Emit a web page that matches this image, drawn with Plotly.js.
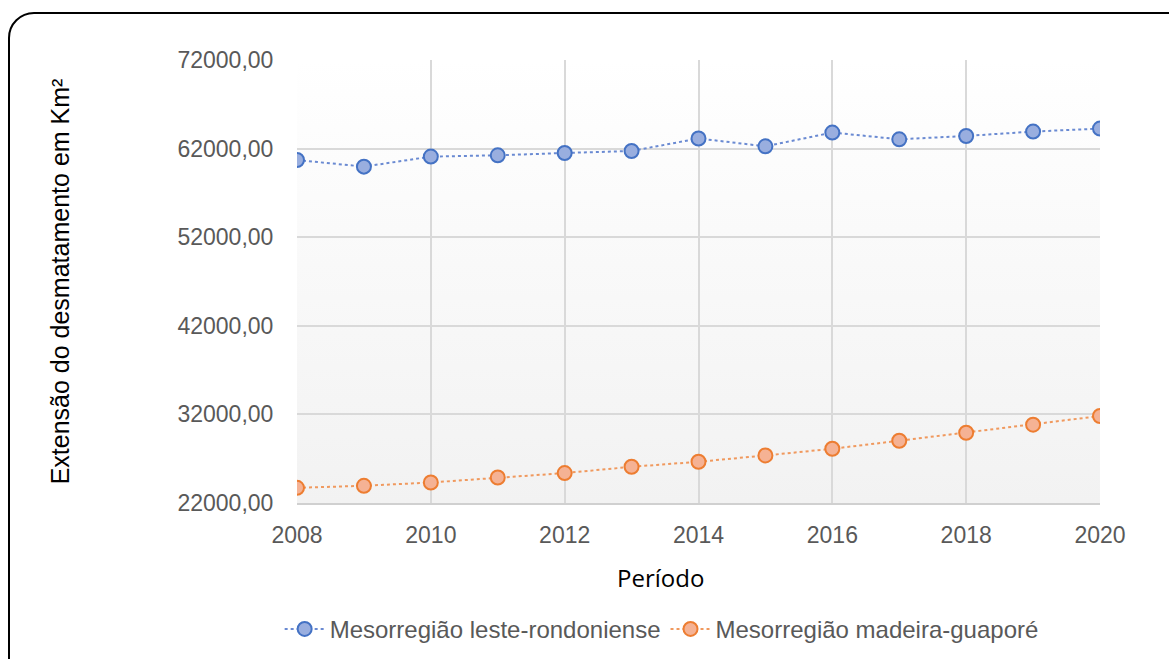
<!DOCTYPE html>
<html>
<head>
<meta charset="utf-8">
<script src="https://cdn.plot.ly/plotly-3.0.1.min.js"></script>
<style>
  html, body { margin: 0; padding: 0; background: #ffffff; overflow: hidden; }
  #frame { position: absolute; left: 8px; top: 12px; width: 1200px; height: 700px;
           border: 2px solid #000; border-radius: 26px; box-sizing: border-box; }
  #bg { position: absolute; left: 297px; top: 60px; width: 803px; height: 443px;
        background: linear-gradient(to bottom, #ffffff 0%, #f2f2f2 100%); }
  #chart { position: absolute; left: 0; top: 0; width: 1169px; height: 659px; }
</style>
</head>
<body>
<div id="frame"></div>
<div id="bg"></div>
<div id="chart"></div>
<script>
const years = [2008, 2009, 2010, 2011, 2012, 2013, 2014, 2015, 2016, 2017, 2018, 2019, 2020];
const lesteRondoniense = [60711, 59965, 61096, 61243, 61503, 61729, 63142, 62260, 63809, 63051, 63424, 63922, 64261];
const madeiraGuapore = [23715, 23941, 24314, 24879, 25376, 26088, 26653, 27366, 28123, 29027, 29931, 30836, 31819];
const seriesNames = ['Mesorregião leste-rondoniense', 'Mesorregião madeira-guaporé'];
const xTitle = 'Período';
const yTitle = 'Extensão do desmatamento em Km²';

const traces = [
  {
    x: years, y: lesteRondoniense, name: seriesNames[0],
    type: 'scatter', mode: 'lines+markers',
    line: { color: '#6a8ad2', width: 2, dash: 'dot' },
    marker: { size: 14, color: '#99aedf', line: { color: '#4472c4', width: 2 } }
  },
  {
    x: years, y: madeiraGuapore, name: seriesNames[1],
    type: 'scatter', mode: 'lines+markers',
    line: { color: '#f0995e', width: 2, dash: 'dot' },
    marker: { size: 14, color: '#f5b294', line: { color: '#ed7d31', width: 2 } }
  }
];

const layout = {
  width: 1169, height: 659,
  paper_bgcolor: 'rgba(0,0,0,0)',
  plot_bgcolor: 'rgba(0,0,0,0)',
  margin: { l: 297, r: 69, t: 60, b: 156 },
  separators: ',.',
  font: { family: 'Liberation Sans, Arial, sans-serif', color: '#595959', size: 23 },
  showlegend: true,
  legend: {
    orientation: 'h', xref: 'container', yref: 'container',
    x: 0.566, xanchor: 'center', y: 0.045, yanchor: 'middle',
    font: { size: 24, color: '#595959' }, traceorder: 'normal', itemwidth: 40,
    bgcolor: 'rgba(0,0,0,0)'
  },
  xaxis: {
    range: [2008, 2020], tickmode: 'linear', tick0: 2008, dtick: 2,
    showgrid: true, gridcolor: '#d9d9d9', gridwidth: 2,
    showline: true, linecolor: '#d0d0d0', linewidth: 2,
    zeroline: false, automargin: false,
    ticks: 'outside', ticklen: 10, tickcolor: 'rgba(0,0,0,0)',
    tickfont: { size: 23, color: '#595959' }
  },
  yaxis: {
    range: [22000, 72000], tickmode: 'linear', tick0: 22000, dtick: 10000,
    tickformat: '.2f',
    showgrid: true, gridcolor: '#d9d9d9', gridwidth: 2,
    showline: false, zeroline: false, automargin: false,
    ticks: 'outside', ticklen: 18, tickcolor: 'rgba(0,0,0,0)',
    tickfont: { size: 23, color: '#595959' },
    title: { text: yTitle, font: { size: 25, color: '#000000' }, standoff: 100 }
  },
  annotations: [
    {
      text: xTitle, xref: 'paper', yref: 'paper', x: 0.453, y: -0.168,
      xanchor: 'center', yanchor: 'middle', showarrow: false,
      font: { size: 24, color: '#000000', family: 'Open Sans, Liberation Sans, sans-serif' }
    }
  ]
};

Plotly.newPlot('chart', traces, layout, { displayModeBar: false, staticPlot: true });
</script>
</body>
</html>
